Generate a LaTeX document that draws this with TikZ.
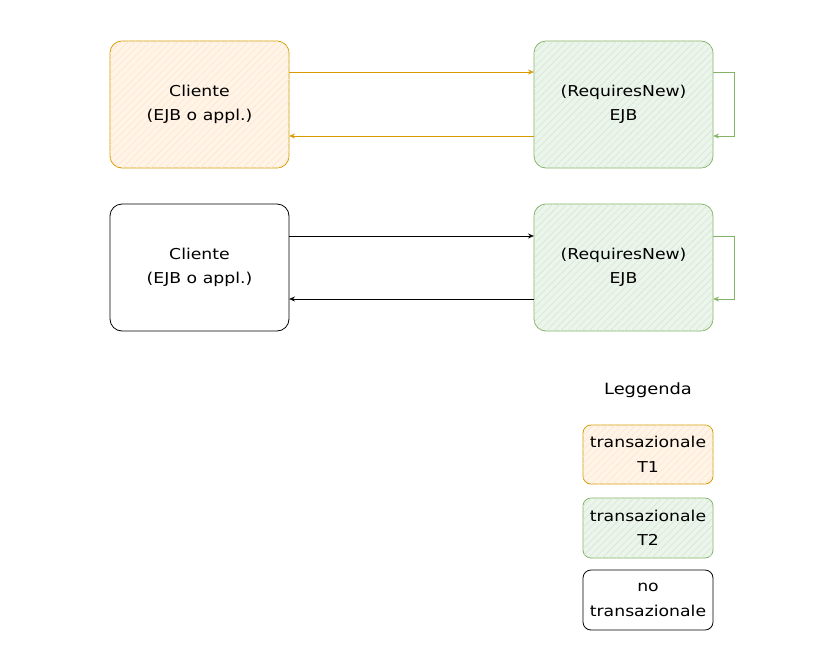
\documentclass[tikz,border=0pt]{standalone}
\usepackage{fontspec}
\setmainfont{DejaVu Sans}[FakeStretch=1.15]
\usetikzlibrary{patterns.meta,arrows.meta}
\definecolor{orbd}{HTML}{D79B00}
\definecolor{orfl}{HTML}{FFE6CC}
\definecolor{grbd}{HTML}{82B366}
\definecolor{grfl}{HTML}{D5E8D4}
\tikzset{
  box/.style={draw, rounded corners=12pt, align=center, inner sep=0pt, line width=0.8pt,
    font=\fontsize{15}{24.5}\selectfont},
  orbox/.style={box, draw=orbd, fill=orfl!45,
    postaction={pattern={Lines[angle=45,distance=5pt,line width=0.6pt]}, pattern color=orfl}},
  grbox/.style={box, draw=grbd, fill=grfl!45,
    postaction={pattern={Lines[angle=45,distance=5pt,line width=0.6pt]}, pattern color=grfl}},
  wbox/.style={box, draw=black, fill=white},
  arr/.style={-{Stealth[open,length=6pt,width=5pt]}, line width=0.8pt},
}
\begin{document}
\begin{tikzpicture}[x=1pt,y=-1pt]
\useasboundingbox (0,0) rectangle (827,651);
% row 1
\node[orbox, minimum width=179pt, minimum height=127pt] (c1) at (199.5,104.5) {Cliente\\(EJB o appl.)};
\node[grbox, minimum width=179pt, minimum height=127pt] (e1) at (623.5,104.5) {(RequiresNew)\\EJB};
\coordinate (c1a) at (289,72); \coordinate (e1a) at (534,72);
\coordinate (c1b) at (289,136); \coordinate (e1b) at (534,136);
\draw[arr, draw=orbd] (c1a) -- (e1a);
\draw[arr, draw=orbd] (e1b) -- (c1b);
\coordinate (l1a) at (713,72); \coordinate (l1b) at (713,136);
\draw[arr, draw=grbd] (l1a) -- (734,72) -- (734,136) -- (l1b);
% row 2
\node[wbox, minimum width=179pt, minimum height=127pt] (c2) at (199.5,267.5) {Cliente\\(EJB o appl.)};
\node[grbox, minimum width=179pt, minimum height=127pt] (e2) at (623.5,267.5) {(RequiresNew)\\EJB};
\coordinate (c2a) at (289,236); \coordinate (e2a) at (534,236);
\coordinate (c2b) at (289,299); \coordinate (e2b) at (534,299);
\draw[arr, draw=black] (c2a) -- (e2a);
\draw[arr, draw=black] (e2b) -- (c2b);
\coordinate (l2a) at (713,236); \coordinate (l2b) at (713,299);
\draw[arr, draw=grbd] (l2a) -- (734,236) -- (734,299) -- (l2b);
% legend
\node[font=\fontsize{15.5}{16}\selectfont] (leg) at (648,390) {Leggenda};
\node[orbox, minimum width=130pt, minimum height=59pt, rounded corners=8pt] (t1) at (648,454.5) {transazionale\\T1};
\node[grbox, minimum width=130pt, minimum height=60pt, rounded corners=8pt] (t2) at (648,528) {transazionale\\T2};
\node[wbox, minimum width=130pt, minimum height=60pt, rounded corners=8pt] (nt) at (648,600) {no\\transazionale};
\end{tikzpicture}
\end{document}
